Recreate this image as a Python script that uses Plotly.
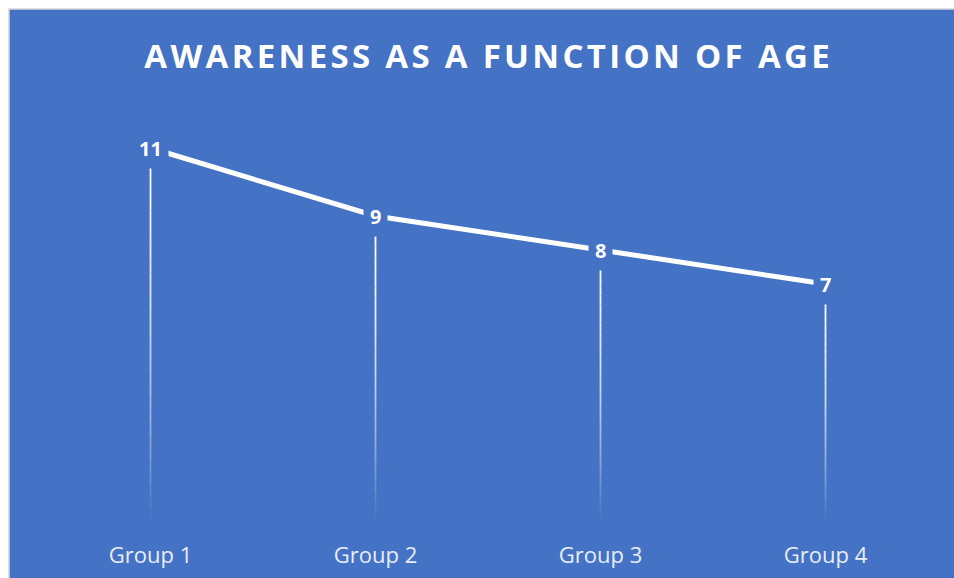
import plotly.graph_objects as go

categories = ["Group 1", "Group 2", "Group 3", "Group 4"]
values = [11, 9, 8, 7]
title_text = "AWARENESS AS A FUNCTION OF AGE"

BLUE = "#4472C4"
FONT = "Open Sans"

W, H = 954, 578
L, R, T, B = 38, 16, 114, 56
pw, ph = W - L - R, H - T - B

fig = go.Figure()

# fading drop lines (gradient along each line)
N = 30
for k in range(N):
    xs, ys = [], []
    for c, v in zip(categories, values):
        xs += [c, c, None]
        ys += [v * (1 - k / N), v * (1 - (k + 1) / N), None]
    t = (k + 0.5) / N
    alpha = max(0.0, 1 - t ** 1.8)
    fig.add_trace(go.Scatter(x=xs, y=ys, mode="lines",
                             line=dict(color=f"rgba(255,255,255,{alpha:.3f})", width=1.8),
                             hoverinfo="skip", showlegend=False))

fig.add_trace(go.Scatter(x=categories, y=values, mode="lines",
                         line=dict(color="white", width=5),
                         showlegend=False))

for c, v in zip(categories, values):
    fig.add_annotation(x=c, y=v, text=f"<b>{v}</b>", showarrow=False,
                       font=dict(family=FONT, size=20, color="white"),
                       bgcolor=BLUE, borderpad=6, xanchor="center", yanchor="middle")

def px2paper_x(p):
    return (p - L) / pw

def px2paper_y(p):
    return (H - B - p) / ph

fig.add_shape(type="rect", xref="paper", yref="paper",
              x0=px2paper_x(9), x1=px2paper_x(W + 20),
              y0=px2paper_y(H + 20), y1=px2paper_y(9),
              fillcolor=BLUE, line=dict(color="#D4D4D4", width=1.5), layer="below")

spaced_title = "\u200a".join(title_text)

fig.update_layout(
    width=W, height=H,
    margin=dict(l=L, r=R, t=T, b=B),
    paper_bgcolor="white",
    plot_bgcolor="rgba(0,0,0,0)",
    title=dict(text=f"<b>{spaced_title}</b>", x=487 / W, xanchor="center",
               y=1 - 56 / H, yanchor="middle", yref="container",
               font=dict(family=FONT, size=33, color="white")),
    xaxis=dict(type="category", range=[-0.5, 3.5], showgrid=False, zeroline=False,
               showline=False, ticks="", ticklabelstandoff=18, automargin=False,
               tickfont=dict(family=FONT, size=22, color="#E8EDF7")),
    yaxis=dict(range=[0, 12], showgrid=False, zeroline=False, showline=False,
               showticklabels=False, ticks="", automargin=False),
)

fig.write_html("out.html")
